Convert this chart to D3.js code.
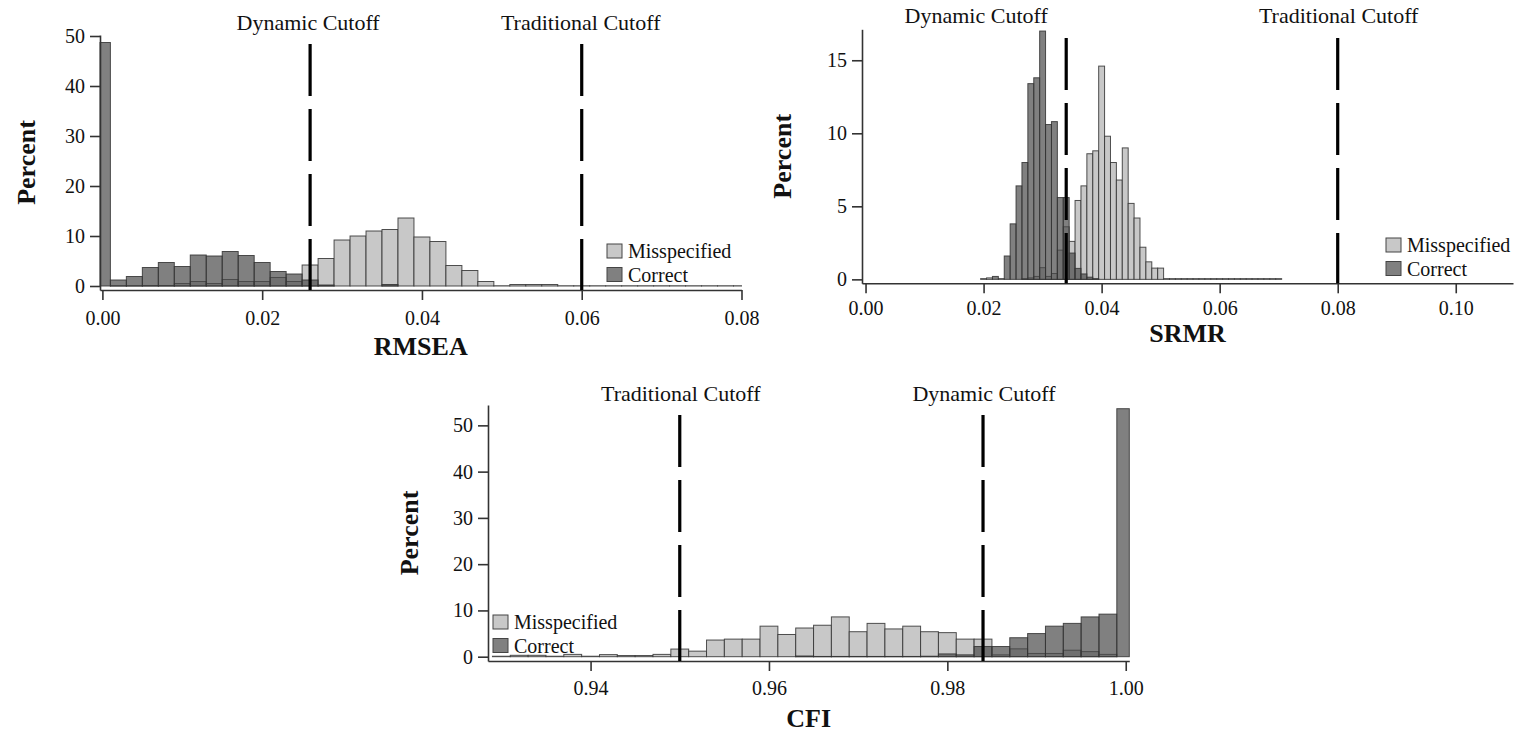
<!DOCTYPE html>
<html>
<head>
<meta charset="utf-8">
<script src="https://cdn.jsdelivr.net/npm/d3@7"></script>
<style>
body{margin:0;background:#fff;}
text{font-family:"Liberation Serif","Times New Roman",serif;fill:#111;}
</style>
</head>
<body>
<svg id="chart" width="1526" height="745"></svg>
<script>
// RMSEA histogram, bins centred every 0.002 starting at 0.000
var rmseaStart = 0.000, rmseaStep = 0.002;
var rmseaMiss = [0, 0.05, 0.05, 0.1, 0.1, 0.5, 0.9, 0.5, 1.3, 0.9, 0.9, 1.7, 0.9, 4.2, 5.5, 9.2, 10.0, 11.0, 11.3, 13.6,
  9.8, 8.9, 4.1, 3.1, 0.9, 0.05, 0.3, 0.3, 0.3, 0.05, 0.05, 0.05, 0.05, 0.05, 0.05, 0.05, 0.05, 0.05, 0.05, 0.05, 0.05];
var rmseaCorrect = [48.7, 1.2, 1.9, 3.7, 4.7, 3.9, 6.2, 6.0, 6.9, 6.1, 4.7, 2.9, 2.4, 1.2, 0.2, 0, 0, 0, 0.3, 0];
var rmseaTicks = [0, 0.02, 0.04, 0.06, 0.08];
var rmseaYTicks = [0, 10, 20, 30, 40, 50];
var rmseaCutoffs = [0.026, 0.06];

// SRMR histogram, bins centred every 0.001 starting at 0.020
var srmrStart = 0.020, srmrStep = 0.001;
var srmrMiss = [0.05, 0.1, 0, 0.05, 0, 0, 0, 0.05, 0.1, 0.2, 0.8, 0.2, 0.4, 2.0, 3.6, 2.6, 5.4, 6.4, 8.6, 8.8,
  14.6, 9.8, 8.0, 6.8, 9.0, 5.2, 4.2, 2.2, 1.2, 0.77, 0.77, 0.05, 0.05, 0.05, 0.05, 0.05, 0.05, 0.05, 0.05, 0.05,
  0.05, 0.05, 0.05, 0.05, 0.05, 0.05, 0.05, 0.05, 0.05, 0.05, 0.05];
var srmrCorrect = [0, 0, 0.2, 0, 1.6, 3.8, 6.4, 8.0, 13.4, 13.8, 17.0, 10.6, 10.8, 5.6, 5.6, 1.8, 0.75, 0.37, 0.15, 0.05];
var srmrTicks = [0, 0.02, 0.04, 0.06, 0.08, 0.10];
var srmrYTicks = [0, 5, 10, 15];
var srmrCutoffs = [0.034, 0.08];

// CFI histogram, bins centred every 0.002 starting at 0.930
var cfiStart = 0.930, cfiStep = 0.002;
var cfiMiss = [0.1, 0.3, 0.3, 0.1, 0.5, 0.1, 0.45, 0.25, 0.25, 0.5, 1.65, 1.2, 3.6, 3.8, 3.8, 6.6, 4.8, 6.2, 6.8, 8.6,
  5.4, 7.2, 6.0, 6.6, 5.4, 5.2, 3.8, 3.8, 0.4, 1.7, 0.7, 0.7, 1.4, 1.1, 0.5, 0];
var cfiCorrect = [0, 0, 0, 0, 0, 0, 0, 0, 0, 0, 0, 0, 0, 0, 0, 0, 0, 0.15, 0.05, 0.05,
  0.05, 0.05, 0.05, 0.05, 0.1, 0.6, 0.4, 2.2, 2.2, 4.1, 5.0, 6.6, 7.2, 8.6, 9.2, 53.6];
var cfiTicks = [0.94, 0.96, 0.98, 1.00];
var cfiYTicks = [0, 10, 20, 30, 40, 50];
var cfiCutoffs = [0.95, 0.984];

var svg = d3.select("#chart");

function drawPanel(p) {
  var x = d3.scaleLinear().domain(p.xDomain).range(p.xRange);
  var y = d3.scaleLinear().domain(p.yDomain).range(p.yRange);
  var g = svg.append("g");

  function bars(vals, cls) {
    var rows = [];
    vals.forEach(function(v, i) {
      if (v <= 0) return;
      var c = p.start + p.step * i;
      rows.push({
        x0: Math.max(c - p.step / 2, p.xDomain[0]),
        x1: Math.min(c + p.step / 2, p.xDomain[1]),
        v: v
      });
    });
    g.selectAll("rect." + cls)
      .data(rows)
      .enter().append("rect")
      .attr("class", cls)
      .attr("x", function(d) { return x(d.x0); })
      .attr("width", function(d) { return x(d.x1) - x(d.x0); })
      .attr("y", function(d) { return y(d.v); })
      .attr("height", function(d) { return y(0) - y(d.v); })
      .attr("fill", cls == "miss" ? "#c8c8c8" : "#4a4a4a")
      .attr("fill-opacity", cls == "miss" ? 1 : 0.7)
      .attr("stroke", "#333")
      .attr("stroke-opacity", 0.85)
      .attr("stroke-width", 1);
  }
  bars(p.miss, "miss");
  bars(p.correct, "correct");

  // x axis
  var xa = g.append("g")
    .attr("transform", "translate(0," + p.yRange[0] + ")")
    .call(d3.axisBottom(x).tickValues(p.xTicks).tickSize(10).tickSizeOuter(0)
      .tickPadding(p.xPad).tickFormat(d3.format(".2f")));
  xa.selectAll("text").style("font-size", "20px").attr("font-family", null);
  xa.selectAll("line,path").attr("stroke", "#333").attr("stroke-width", 1.6);

  var ya = g.append("g")
    .attr("transform", "translate(" + p.xRange[0] + ",0)")
    .call(d3.axisLeft(y).tickValues(p.yTicks).tickSize(10).tickSizeOuter(0).tickPadding(5));
  ya.selectAll("text").style("font-size", "20px").attr("font-family", null);
  ya.selectAll("line,path").attr("stroke", "#333").attr("stroke-width", 1.6);

  // cutoff lines
  p.cutoffs.forEach(function(c, i) {
    g.append("line")
      .attr("x1", x(c)).attr("x2", x(c))
      .attr("y1", p.lineTop).attr("y2", p.yRange[0])
      .attr("stroke", "#000").attr("stroke-width", 3.2)
      .attr("stroke-dasharray", "52,13");
    g.append("text")
      .attr("x", x(c) + p.cutoffShift[i])
      .attr("y", p.cutoffY)
      .attr("text-anchor", "middle")
      .style("font-size", "22px")
      .text(p.cutoffNames[i]);
  });

  // axis titles
  g.append("text")
    .attr("transform", "translate(" + p.yTitleX + "," + ((p.yRange[0] + p.yRange[1]) / 2) + ") rotate(-90)")
    .attr("text-anchor", "middle")
    .style("font-size", "26px").style("font-weight", "bold")
    .text("Percent");
  g.append("text")
    .attr("x", (p.xRange[0] + p.xRange[1]) / 2)
    .attr("y", p.xTitleY)
    .attr("text-anchor", "middle")
    .style("font-size", "26px").style("font-weight", "bold")
    .text(p.title);

  // legend
  var lg = g.append("g").attr("transform", "translate(" + p.legendX + "," + p.legendY + ")");
  [["Misspecified", "#c8c8c8", 1], ["Correct", "#4a4a4a", 0.7]].forEach(function(d, i) {
    lg.append("rect")
      .attr("x", 0).attr("y", i * 23.5)
      .attr("width", 15).attr("height", 14)
      .attr("fill", d[1]).attr("fill-opacity", d[2])
      .attr("stroke", "#444").attr("stroke-width", 1);
    lg.append("text")
      .attr("x", 21).attr("y", i * 23.5 + 7)
      .attr("dy", "0.35em")
      .style("font-size", "20px")
      .text(d[0]);
  });
}

drawPanel({
  start: rmseaStart, step: rmseaStep, miss: rmseaMiss, correct: rmseaCorrect,
  xDomain: [-0.0003, 0.08], xRange: [100, 741.5],
  yDomain: [-0.8, 50.2], yRange: [290, 35],
  xTicks: rmseaTicks, yTicks: rmseaYTicks, xPad: 11,
  cutoffs: rmseaCutoffs, cutoffNames: ["Dynamic Cutoff", "Traditional Cutoff"], cutoffShift: [-2, -1],
  cutoffY: 30, lineTop: 44,
  title: "RMSEA", xTitleY: 355, yTitleX: 35,
  legendX: 607, legendY: 244
});

drawPanel({
  start: srmrStart, step: srmrStep, miss: srmrMiss, correct: srmrCorrect,
  xDomain: [-0.0006, 0.1097], xRange: [862, 1513],
  yDomain: [-0.27, 17.12], yRange: [283.3, 29.3],
  xTicks: srmrTicks, yTicks: srmrYTicks, xPad: 8,
  cutoffs: srmrCutoffs, cutoffNames: ["Dynamic Cutoff", "Traditional Cutoff"], cutoffShift: [-90, 1],
  cutoffY: 23, lineTop: 38,
  title: "SRMR", xTitleY: 342, yTitleX: 791,
  legendX: 1386, legendY: 238
});

drawPanel({
  start: cfiStart, step: cfiStep, miss: cfiMiss, correct: cfiCorrect,
  xDomain: [0.9285, 1.0004], xRange: [488, 1129.3],
  yDomain: [-0.93, 54.4], yRange: [661, 405],
  xTicks: cfiTicks, yTicks: cfiYTicks, xPad: 10,
  cutoffs: cfiCutoffs, cutoffNames: ["Traditional Cutoff", "Dynamic Cutoff"], cutoffShift: [1, 1],
  cutoffY: 401, lineTop: 415,
  title: "CFI", xTitleY: 727, yTitleX: 418,
  legendX: 493, legendY: 615
});
</script>
</body>
</html>
